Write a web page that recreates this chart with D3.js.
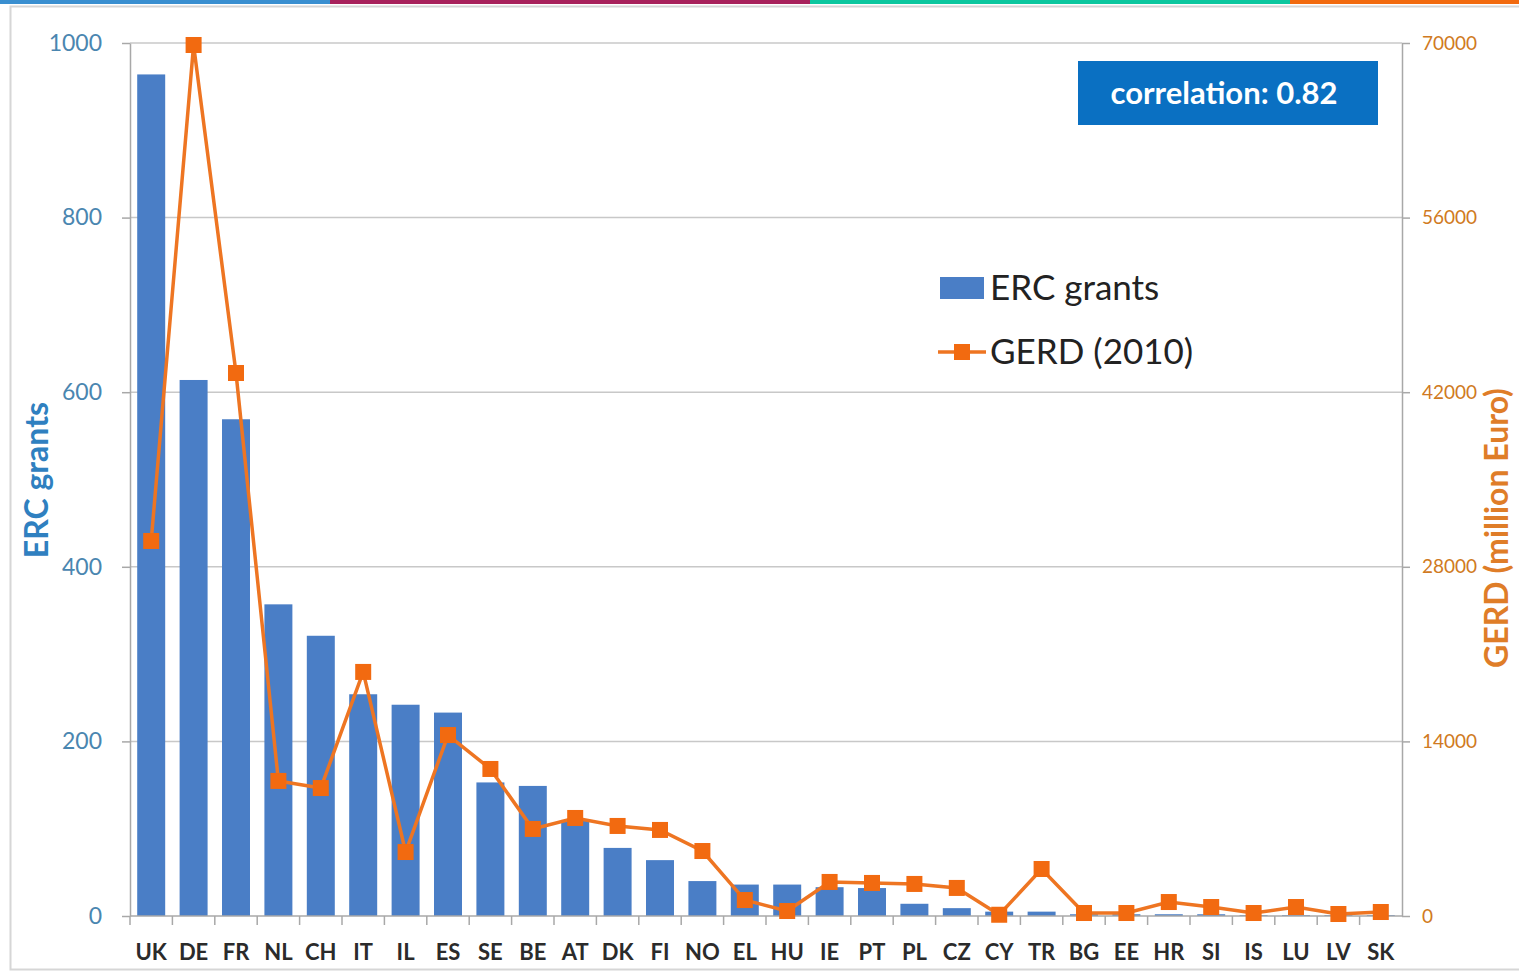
<!DOCTYPE html>
<html><head><meta charset="utf-8">
<script src="https://cdn.jsdelivr.net/npm/d3@7"></script>
<style>
html,body{margin:0;padding:0;background:#fff;}
svg{display:block;font-family:Lato,"Open Sans",sans-serif;}
</style></head>
<body><svg id="c" width="1519" height="975"></svg>
<script>
const countries = ["UK","DE","FR","NL","CH","IT","IL","ES","SE","BE","AT","DK","FI","NO","EL","HU","IE","PT","PL","CZ","CY","TR","BG","EE","HR","SI","IS","LU","LV","SK"];
const ercGrants = [964,614,569,357,321,254,242,233,153,149,110,78,64,40,36,36,33,32,14,9,5,5,2,2,2,2,1,1,1,1];
const gerd2010 = [30070,69840,43540,10830,10260,19570,5130,14510,11790,6980,7860,7220,6900,5210,1280,400,2730,2650,2570,2250,100,3770,240,240,1120,720,240,720,160,320];
const leftTicks = [0,200,400,600,800,1000];
const rightTicks = [0,14000,28000,42000,56000,70000];

const svg = d3.select("#c");
const m = {l:130, r:1402, t:43, b:916};

// top colour strip + frame
const strip = [["#3a8fd0",0,330],["#a8225c",330,810],["#0cc79f",810,1290],["#f26a0f",1290,1519]];
svg.selectAll("rect.strip").data(strip).join("rect").attr("class","strip")
  .attr("x",d=>d[1]).attr("y",0).attr("width",d=>d[2]-d[1]).attr("height",4).attr("fill",d=>d[0]);
svg.append("rect").attr("x",10.5).attr("y",6.5).attr("width",1520).attr("height",963)
  .attr("fill","none").attr("stroke","#d6d6d6").attr("stroke-width",2);

const x = d3.scaleBand().domain(countries).range([m.l,m.r]).paddingInner(0.34).paddingOuter(0.17);
const xb = d3.scaleBand().domain(countries).range([m.l,m.r]);
const yL = d3.scaleLinear().domain([0,1000]).range([m.b,m.t]);
const yR = d3.scaleLinear().domain([0,70000]).range([m.b,m.t]);

// gridlines
svg.append("g").selectAll("line").data(leftTicks.slice(1)).join("line")
  .attr("x1",m.l).attr("x2",m.r).attr("y1",d=>yL(d)).attr("y2",d=>yL(d))
  .attr("stroke","#c8c8c8").attr("stroke-width",1.5);

// bars
svg.append("g").selectAll("rect").data(countries).join("rect")
  .attr("x",d=>x(d)).attr("width",x.bandwidth())
  .attr("y",(d,i)=>yL(ercGrants[i])).attr("height",(d,i)=>yL(0)-yL(ercGrants[i]))
  .attr("fill","#4a7ec6");

// left axis
const gL = svg.append("g").attr("transform",`translate(${m.l},0)`)
  .call(d3.axisLeft(yL).tickValues(leftTicks).tickSize(8).tickPadding(20).tickSizeOuter(0).tickFormat(d3.format("d")));
gL.select(".domain").attr("stroke","#a8a8a8").attr("stroke-width",1.5);
gL.selectAll(".tick line").attr("stroke","#a8a8a8").attr("stroke-width",1.5);
gL.selectAll("text").attr("fill","#4a86b0").attr("font-size",23).attr("font-family","Lato,sans-serif");

// right axis
const gR = svg.append("g").attr("transform",`translate(${m.r},0)`)
  .call(d3.axisRight(yR).tickValues(rightTicks).tickSize(8).tickPadding(12).tickSizeOuter(0).tickFormat(d3.format("d")));
gR.select(".domain").attr("stroke","#a8a8a8").attr("stroke-width",1.5);
gR.selectAll(".tick line").attr("stroke","#a8a8a8").attr("stroke-width",1.5);
gR.selectAll("text").attr("fill","#d07a22").attr("font-size",19).attr("font-family","Lato,sans-serif");

// x axis
const gX = svg.append("g").attr("transform",`translate(0,${m.b})`);
gX.append("line").attr("x1",m.l).attr("x2",m.r).attr("stroke","#a8a8a8").attr("stroke-width",1.5);
gX.selectAll("line.t").data(countries).join("line").attr("class","t")
  .attr("x1",d=>xb(d)).attr("x2",d=>xb(d)).attr("y1",0).attr("y2",9)
  .attr("stroke","#a8a8a8").attr("stroke-width",1.5);
gX.selectAll("text").data(countries).join("text")
  .attr("x",d=>xb(d)+xb.bandwidth()/2).attr("y",44).attr("text-anchor","middle")
  .attr("font-size",22).attr("font-weight","bold").attr("fill","#2b2b2b").text(d=>d);

// GERD line
const cx = d=>xb(d)+xb.bandwidth()/2;
const line = d3.line().x((d,i)=>cx(countries[i])).y(d=>yR(d));
svg.append("path").datum(gerd2010).attr("d",line).attr("fill","none")
  .attr("stroke","#ee7522").attr("stroke-width",3.5);
svg.append("g").selectAll("rect").data(gerd2010).join("rect")
  .attr("x",(d,i)=>cx(countries[i])-8).attr("y",d=>yR(d)-8).attr("width",16).attr("height",16)
  .attr("fill","#f26a10");

// axis titles
svg.append("text").attr("transform","translate(48,480) rotate(-90)").attr("text-anchor","middle")
  .attr("font-size",32).attr("font-weight","bold").attr("fill","#2f80c0").text("ERC grants");
svg.append("text").attr("transform","translate(1508,528) rotate(-90)").attr("text-anchor","middle")
  .attr("font-size",32).attr("font-weight","bold").attr("fill","#df7d28").text("GERD (million Euro)");

// correlation box
svg.append("rect").attr("x",1078).attr("y",61).attr("width",300).attr("height",64).attr("fill","#0a70c2");
svg.append("text").attr("x",1224).attr("y",104).attr("text-anchor","middle").attr("font-size",31)
  .attr("font-weight","bold").attr("fill","#fff").text("correlation: 0.82");

// legend
const lg = svg.append("g");
lg.append("rect").attr("x",940).attr("y",277).attr("width",44).attr("height",22).attr("fill","#4a7ec6");
lg.append("text").attr("x",990).attr("y",300).attr("font-size",35).attr("fill","#222").text("ERC grants");
lg.append("line").attr("x1",938).attr("x2",986).attr("y1",352).attr("y2",352).attr("stroke","#ee7522").attr("stroke-width",3.5);
lg.append("rect").attr("x",954).attr("y",344).attr("width",16).attr("height",16).attr("fill","#f26a10");
lg.append("text").attr("x",990).attr("y",364).attr("font-size",35).attr("fill","#222").text("GERD (2010)");
</script></body></html>
